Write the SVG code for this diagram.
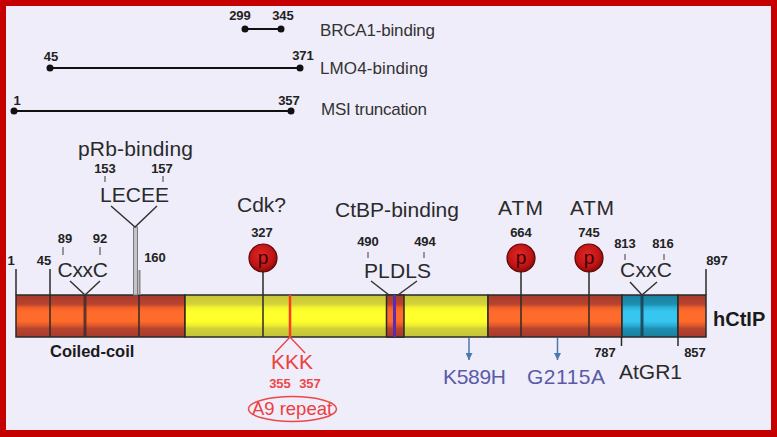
<svg xmlns="http://www.w3.org/2000/svg" width="777" height="437" viewBox="0 0 777 437">
<defs>
<linearGradient id="gOr" x1="0" y1="0" x2="0" y2="1">
<stop offset="0" stop-color="#a8392c"/><stop offset="0.22" stop-color="#b8442e"/><stop offset="0.3" stop-color="#f0602a"/><stop offset="0.4" stop-color="#ff6b2b"/><stop offset="0.62" stop-color="#ff6b2b"/><stop offset="0.72" stop-color="#e05a2c"/><stop offset="0.8" stop-color="#b8442e"/><stop offset="1" stop-color="#a8392c"/>
</linearGradient>
<linearGradient id="gYe" x1="0" y1="0" x2="0" y2="1">
<stop offset="0" stop-color="#c6c43a"/><stop offset="0.22" stop-color="#d4d438"/><stop offset="0.3" stop-color="#f4f430"/><stop offset="0.4" stop-color="#ffff2c"/><stop offset="0.62" stop-color="#ffff2c"/><stop offset="0.72" stop-color="#eeee30"/><stop offset="0.8" stop-color="#d0d038"/><stop offset="1" stop-color="#c6c43a"/>
</linearGradient>
<linearGradient id="gCy" x1="0" y1="0" x2="0" y2="1">
<stop offset="0" stop-color="#1a7f9e"/><stop offset="0.22" stop-color="#1e8fb0"/><stop offset="0.3" stop-color="#2ab4dc"/><stop offset="0.4" stop-color="#36c6f0"/><stop offset="0.62" stop-color="#36c6f0"/><stop offset="0.72" stop-color="#2ab0d8"/><stop offset="0.8" stop-color="#1e8fb0"/><stop offset="1" stop-color="#1a7f9e"/>
</linearGradient>
<radialGradient id="gP" cx="0.45" cy="0.4" r="0.6">
<stop offset="0" stop-color="#e02828"/><stop offset="0.7" stop-color="#c01414"/><stop offset="1" stop-color="#8a0a0a"/>
</radialGradient>
<marker id="arr" viewBox="0 0 8 8" refX="8" refY="4" markerWidth="7" markerHeight="7" orient="auto" markerUnits="userSpaceOnUse">
<path d="M0,0 L8,4 L0,8 Z" fill="#4a78b0"/>
</marker>
<style>
text{font-family:"Liberation Sans",Arial,sans-serif}
.num{font-size:13px;font-weight:bold;fill:#222;text-anchor:middle}
.top{font-size:17px;fill:#333}
.lab{font-size:21px;fill:#2a2a2a}
.seg{stroke:#2a2a2a;stroke-width:1.5}
.div{stroke:#2a2a2a;stroke-width:1.5}
.v{stroke:#333;stroke-width:1.5;fill:none}
.tick{stroke:#777;stroke-width:1.5}
.dot{fill:#111}
.rng{stroke:#111;stroke-width:2}
.pc{fill:url(#gP);stroke:#5a0606;stroke-width:1.2}
.pt{font-size:19px;fill:#3a0000;text-anchor:middle}
.mut{font-size:21px;fill:#5a5aa8}
.arr{stroke:#4a78b0;stroke-width:1.5;marker-end:url(#arr)}
.rnum{font-size:13px;font-weight:bold;fill:#ec4848;text-anchor:middle}
</style>
</defs>
<rect x="0" y="0" width="777" height="437" fill="#c40000"/>
<rect x="6" y="6" width="765" height="424" fill="#efedf9"/>

<g id="ranges">
<g id="brca1">
<line class="rng" x1="245" y1="29" x2="281" y2="29"/>
<circle class="dot" cx="245" cy="29" r="3.5"/><circle class="dot" cx="281" cy="29" r="3.5"/>
<text class="num" x="240" y="20">299</text><text class="num" x="283" y="20">345</text>
<text class="top" x="320" y="36" textLength="115">BRCA1-binding</text>
</g>
<g id="lmo4">
<line class="rng" x1="50" y1="68" x2="300" y2="68"/>
<circle class="dot" cx="50" cy="68" r="3.5"/><circle class="dot" cx="300" cy="68" r="3.5"/>
<text class="num" x="51" y="61">45</text><text class="num" x="303" y="60">371</text>
<text class="top" x="320" y="74" textLength="108">LMO4-binding</text>
</g>
<g id="msi">
<line class="rng" x1="14" y1="111" x2="291" y2="111"/>
<circle class="dot" cx="14" cy="111" r="3.5"/><circle class="dot" cx="291" cy="111" r="3.5"/>
<text class="num" x="17" y="105">1</text><text class="num" x="289" y="105">357</text>
<text class="top" x="321" y="115" textLength="106">MSI truncation</text>
</g>
</g>

<g id="bar">
<rect class="seg" x="16" y="295" width="169" height="42" fill="url(#gOr)"/>
<rect class="seg" x="185" y="295" width="303" height="42" fill="url(#gYe)"/>
<rect class="seg" x="386.5" y="295" width="17.5" height="42" fill="url(#gOr)"/>
<rect class="seg" x="488" y="295" width="134" height="42" fill="url(#gOr)"/>
<rect class="seg" x="622" y="295" width="56" height="42" fill="url(#gCy)"/>
<rect class="seg" x="678" y="295" width="28" height="42" fill="url(#gOr)"/>
<line class="div" x1="50" y1="295" x2="50" y2="337"/>
<line x1="85" y1="295" x2="85" y2="337" stroke="#3a2a2a" stroke-width="3" stroke-opacity="0.8"/>
<line class="div" x1="139" y1="295" x2="139" y2="337"/>
<line class="div" x1="263" y1="295" x2="263" y2="337"/>
<line x1="394.5" y1="295" x2="394.5" y2="337" stroke="#5a2cb4" stroke-width="3"/>
<line class="div" x1="521" y1="295" x2="521" y2="337"/>
<line class="div" x1="589" y1="295" x2="589" y2="337"/>
<line x1="642" y1="295" x2="642" y2="337" stroke="#1c3e4c" stroke-width="3" stroke-opacity="0.85"/>
<line x1="290" y1="295" x2="290" y2="337" stroke="#ff3a1e" stroke-width="2.5"/>
<text x="713" y="326" font-size="20" font-weight="bold" fill="#1a1a1a">hCtIP</text>
<text x="50" y="357" font-size="16.5" font-weight="bold" fill="#1a1a1a">Coiled-coil</text>
</g>

<g id="ends">
<line class="div" x1="16" y1="269" x2="16" y2="295"/>
<text class="num" x="11" y="265">1</text>
<line class="div" x1="50" y1="269" x2="50" y2="295"/>
<text class="num" x="44" y="265">45</text>
<line class="div" x1="706" y1="269" x2="706" y2="295"/>
<text class="num" x="717" y="265">897</text>
</g>

<g id="prb">
<text class="lab" x="78" y="156" textLength="115">pRb-binding</text>
<text class="num" x="105" y="173">153</text><text class="num" x="162" y="173">157</text>
<text class="lab" x="100" y="202" textLength="69">LECEE</text>
<rect x="133.5" y="227" width="4" height="68" fill="#c4c4c8" stroke="#7a7a7e" stroke-width="1"/>
<line x1="139.5" y1="270" x2="139.5" y2="295" stroke="#888" stroke-width="2"/>
<text class="num" x="155" y="262" font-size="14">160</text>
</g>

<g id="cxxc1">
<text class="num" x="65" y="243">89</text><text class="num" x="100" y="243">92</text>
<text class="lab" x="57.5" y="277" textLength="50.5">CxxC</text>
</g>

<g id="cdk">
<text class="lab" x="237" y="212" textLength="49">Cdk?</text>
<text class="num" x="262" y="237">327</text>
<line class="div" x1="263" y1="271" x2="263" y2="295"/>
<circle class="pc" cx="263" cy="258" r="14"/>
<text class="pt" x="263" y="264">p</text>
</g>

<g id="ctbp">
<text class="lab" x="335" y="217" textLength="124">CtBP-binding</text>
<text class="num" x="368" y="246">490</text><text class="num" x="425" y="246">494</text>
<text class="lab" x="364" y="278" textLength="67">PLDLS</text>
</g>

<g id="atm1">
<text class="lab" x="498" y="215" textLength="45">ATM</text>
<text class="num" x="521" y="237">664</text>
<line class="div" x1="521" y1="271" x2="521" y2="295"/>
<circle class="pc" cx="521" cy="258" r="14"/>
<text class="pt" x="521" y="264">p</text>
</g>

<g id="atm2">
<text class="lab" x="570" y="215" textLength="44">ATM</text>
<text class="num" x="589" y="237">745</text>
<line class="div" x1="589" y1="271" x2="589" y2="295"/>
<circle class="pc" cx="589" cy="258" r="14"/>
<text class="pt" x="589" y="264">p</text>
</g>

<g id="cxxc2">
<text class="num" x="625" y="248">813</text><text class="num" x="663" y="248">816</text>
<text class="lab" x="620" y="277" textLength="52">CxxC</text>
</g>

<g id="kkk">
<text x="292" y="369" font-size="21" fill="#ec4040" text-anchor="middle" textLength="42">KKK</text>
<text class="rnum" x="280" y="388">355</text>
<text class="rnum" x="310" y="388">357</text>
<ellipse cx="292.5" cy="409" rx="44" ry="12.5" fill="none" stroke="#ec4848" stroke-width="1.5"/>
<text x="292" y="415" font-size="18.5" fill="#ec4040" text-anchor="middle">A9 repeat</text>
</g>

<g id="k589h">
<text class="mut" x="443" y="384" textLength="63">K589H</text>
</g>
<g id="g2115a">
<text class="mut" x="527" y="384" textLength="78">G2115A</text>
</g>

<g id="atgr1">
<line class="div" x1="621.5" y1="337" x2="621.5" y2="346"/>
<line class="div" x1="678" y1="337" x2="678" y2="346"/>
<text class="num" x="605" y="357">787</text>
<text class="num" x="695" y="357">857</text>
<text x="619" y="379" font-size="21" fill="#2a2a2a" textLength="63">AtGR1</text>
</g>

<g id="connectors">
<line class="tick" x1="105" y1="176" x2="105" y2="182"/>
<line class="tick" x1="163" y1="176" x2="163" y2="182"/>
<polyline class="v" points="111,206 135,227 157,206"/>
<line class="tick" x1="63" y1="247" x2="63" y2="255"/>
<line class="tick" x1="100" y1="247" x2="100" y2="255"/>
<polyline class="v" points="70,281 85,295 100,281"/>
<line class="tick" x1="368" y1="252" x2="368" y2="258"/>
<line class="tick" x1="424" y1="252" x2="424" y2="258"/>
<polyline class="v" points="371,281 389,295"/>
<polyline class="v" points="417,281 398,295"/>
<line class="tick" x1="625" y1="254" x2="625" y2="260"/>
<line class="tick" x1="664" y1="254" x2="664" y2="260"/>
<polyline class="v" points="630,282 642,295 657,282"/>
<polyline points="275,353 290,337 305,353" fill="none" stroke="#ec4848" stroke-width="1.5"/>
<line class="arr" x1="469" y1="338" x2="469" y2="360"/>
<line class="arr" x1="557.5" y1="338" x2="557.5" y2="360"/>
</g>
</svg>
